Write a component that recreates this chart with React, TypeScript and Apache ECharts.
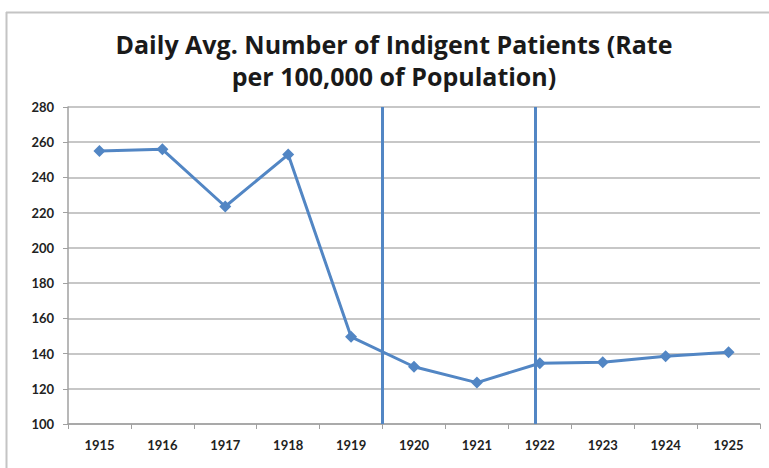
import React, { useEffect, useRef } from "react";
import * as echarts from "echarts";

const years = ["1915", "1916", "1917", "1918", "1919", "1920", "1921", "1922", "1923", "1924", "1925"];
const rates = [255, 256, 223.5, 253, 149.5, 132.5, 123.5, 134.5, 135, 138.5, 140.8];
const markerPositions = [4.5, 6.93];
const titleText = "Daily Avg. Number of Indigent Patients (Rate\nper 100,000 of Population)";

export default function App() {
  const ref = useRef<HTMLDivElement>(null);
  useEffect(() => {
    document.body.style.margin = "0";
    const chart = echarts.init(ref.current!, null, { renderer: "svg" });
    const blue = "#5286c4";
    chart.setOption({
      animation: false,
      backgroundColor: "#ffffff",
      title: {
        text: titleText,
        left: 389,
        textAlign: "center",
        top: 23,
        textStyle: {
          fontFamily: "Open Sans",
          fontWeight: "bold",
          fontSize: 25,
          lineHeight: 32,
          color: "#1a1a1a",
        },
      },
      graphic: [
        { type: "line", shape: { x1: 6, y1: 12.5, x2: 769, y2: 12.5 }, style: { stroke: "#c4c4c4", lineWidth: 2 } },
        { type: "line", shape: { x1: 6.5, y1: 12, x2: 6.5, y2: 468 }, style: { stroke: "#c4c4c4", lineWidth: 2 } },
      ],
      grid: { left: 68, right: 9, top: 107, bottom: 44 },
      xAxis: [
        {
          type: "category",
          data: years,
          boundaryGap: true,
          axisLine: { lineStyle: { color: "#a0a0a0", width: 1.5 } },
          axisTick: { show: true, length: 5, lineStyle: { color: "#a0a0a0" } },
          axisLabel: { color: "#222", fontSize: 13, fontWeight: "bold", fontFamily: "Lato", margin: 14 },
          splitLine: { show: false },
        },
        {
          type: "value",
          min: -0.5,
          max: 10.5,
          show: false,
          splitLine: { show: false },
        },
      ],
      yAxis: {
        type: "value",
        min: 100,
        max: 280,
        interval: 20,
        axisLine: { show: true, onZero: false, lineStyle: { color: "#a0a0a0", width: 1.5 } },
        axisTick: { show: true, length: 5, lineStyle: { color: "#a0a0a0" } },
        axisLabel: { color: "#222", fontSize: 13, fontWeight: "bold", fontFamily: "Lato", margin: 14 },
        splitLine: { lineStyle: { color: "#b4b4b4", width: 1.5 } },
      },
      series: [
        {
          type: "line",
          data: rates,
          symbol: "diamond",
          symbolSize: 12,
          lineStyle: { color: blue, width: 3 },
          itemStyle: { color: blue },
          z: 3,
        },
        {
          type: "line",
          xAxisIndex: 1,
          data: [],
          markLine: {
            silent: true,
            symbol: "none",
            label: { show: false },
            lineStyle: { color: blue, width: 3, type: "solid" },
            data: markerPositions.map((p) => ({ xAxis: p })),
          },
        },
      ],
    });
    return () => chart.dispose();
  }, []);
  return <div ref={ref} style={{ width: 769, height: 468 }} />;
}
